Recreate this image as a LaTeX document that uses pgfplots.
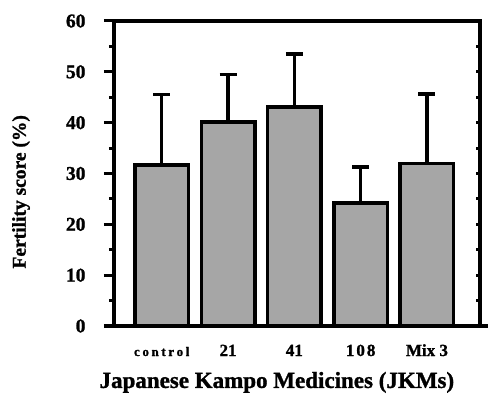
\documentclass[border=0pt]{standalone}
\usepackage{fontspec}
\setmainfont{Liberation Serif}[BoldFeatures={FakeBold=1.2}]
\usepackage{pgfplots}
\pgfplotsset{compat=1.18}
\begin{document}
\begin{tikzpicture}
\pgfplotsset{
  common/.style={
    scale only axis, width=366bp, height=305bp,
    xmin=-0.72, xmax=4.8, ymin=0, ymax=60,
  }
}
\newcommand{\ls}{\hspace{2.6bp}}
\begin{axis}[name=ax, common,
  axis line style={line width=3.5bp},
  ytick={0,10,...,60},
  minor ytick={5,15,...,55},
  ytick pos=left,
  tick align=outside,
  major tick length=10bp, minor tick length=5bp,
  every tick/.style={black, line width=3bp},
  xtick={0,1,2,3,4},
  xticklabels={{\fontsize{13bp}{15bp}\selectfont c\ls o\ls n\ls t\ls r\ls o\ls l}, 21, 41, 1\hspace{2bp}0\hspace{2bp}8, Mix 3},
  x tick style={draw=none},
  x tick label style={font=\bfseries\fontsize{17bp}{19bp}\selectfont, anchor=base, yshift=-20bp},
  y tick label style={font=\bfseries\fontsize{19.5bp}{21bp}\selectfont, xshift=-15bp},
  /pgf/number format/assume math mode=true,
  xlabel={Japanese Kampo Medicines (JKMs)},
  ylabel={Fertility score (\%)},
  xlabel style={font=\bfseries\fontsize{23bp}{26bp}\selectfont, at={(axis description cs:0.445,-0.203)}, anchor=base},
  ylabel style={font=\bfseries\fontsize{19.5bp}{22bp}\selectfont, at={(axis description cs:-0.254,0.44)}, anchor=center},
  clip=false,
]
\addplot[ybar, bar width=53.5bp, fill=black!35, draw=black, line width=3.5bp,
  error bars/.cd, y dir=plus, y explicit,
  error bar style={line width=3.5bp},
  error mark options={rotate=90, mark size=8.5bp, line width=3.5bp}]
  table[x=x, y=y, y error=e] {
x y e
0 31.7 13.8
1 40.1 9.4
2 43.1 10.4
3 24.2 7.1
4 32.0 13.6
};
\draw[line width=3.5bp] ([xshift=-10bp]rel axis cs:0,0) -- ([xshift=8bp]rel axis cs:1,0);
\end{axis}
\begin{axis}[common, at={(ax.south west)}, anchor=south west,
  axis x line=none, axis y line*=right,
  axis line style={line width=3.5bp},
  ytick={0,5,...,60}, yticklabels={},
  tick align=inside, major tick length=4bp,
  every tick/.style={black, line width=3bp},
]
\end{axis}
\pgfresetboundingbox
\path ([shift={(-114bp,-68bp)}]ax.south west) rectangle ([shift={(8bp,21bp)}]ax.north east);
\end{tikzpicture}
\end{document}
